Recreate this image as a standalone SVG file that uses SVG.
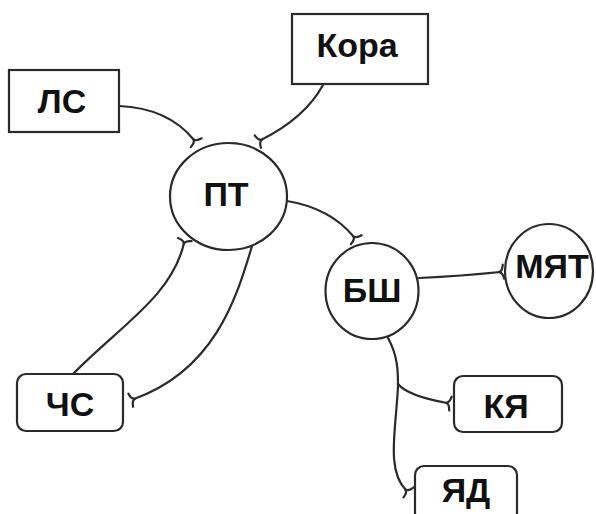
<svg xmlns="http://www.w3.org/2000/svg" width="596" height="514" viewBox="0 0 596 514">
<style>
.box{fill:#fff;stroke:#2a2a2a;stroke-width:2.2}
.lbl{font-family:"Liberation Sans",Arial,sans-serif;font-weight:bold;font-size:34px;fill:#111;text-anchor:middle}
.con{fill:none;stroke:#2a2a2a;stroke-width:2.2;stroke-linecap:round}
</style>
<defs>
<marker id="fork" markerUnits="userSpaceOnUse" markerWidth="16" markerHeight="16" viewBox="-4 -8 16 16" refX="0" refY="0" orient="auto" overflow="visible">
<path d="M-1,0 Q2.5,-0.5 3.5,-7 M-1,0 Q2.5,0.5 3.5,7" fill="none" stroke="#2a2a2a" stroke-width="2.2" stroke-linecap="round"/>
</marker>
</defs>
<rect width="596" height="514" fill="#fff"/>
<g id="connectors">
<path class="con" marker-end="url(#fork)" d="M119,106 Q168,108 194,140"/>
<path class="con" marker-end="url(#fork)" d="M323,85 Q305,118 261,140"/>
<path class="con" marker-end="url(#fork)" d="M287,201 Q330,208 354,237"/>
<path class="con" marker-end="url(#fork)" d="M73,374 C120,326 172,296 184,243"/>
<path class="con" marker-end="url(#fork)" d="M252,246 C236,300 214,370 134,399"/>
<path class="con" marker-end="url(#fork)" d="M419,278 Q462,276 500,272"/>
<path class="con" marker-end="url(#fork)" d="M388,338 C398,356 398,372 398,386 C396,430 386,470 406,490"/>
<path class="con" marker-end="url(#fork)" d="M398,384 Q408,396 447,403"/>
</g>
<g id="ЛС"><rect class="box" x="9" y="70" width="110" height="62"/><text class="lbl" x="62" y="113">ЛС</text></g>
<g id="Кора"><rect class="box" x="292" y="14" width="136" height="70"/><text class="lbl" x="357" y="57">Кора</text></g>
<g id="ПТ"><ellipse class="box" cx="228.5" cy="196.5" rx="58.5" ry="53.5"/><text class="lbl" x="226" y="206">ПТ</text></g>
<g id="ЧС"><rect class="box" x="17" y="374" width="106" height="57" rx="9"/><text class="lbl" x="70" y="416">ЧС</text></g>
<g id="БШ"><ellipse class="box" cx="372" cy="291" rx="46.5" ry="48"/><text class="lbl" x="372" y="302">БШ</text></g>
<g id="МЯТ"><ellipse class="box" cx="549" cy="271" rx="44" ry="47"/><text class="lbl" x="552" y="278">МЯТ</text></g>
<g id="КЯ"><rect class="box" x="454" y="376" width="108" height="56" rx="9"/><text class="lbl" x="506" y="418">КЯ</text></g>
<g id="ЯД"><rect class="box" x="415" y="466" width="102" height="56" rx="9"/><text class="lbl" x="466" y="502">ЯД</text></g>
</svg>
